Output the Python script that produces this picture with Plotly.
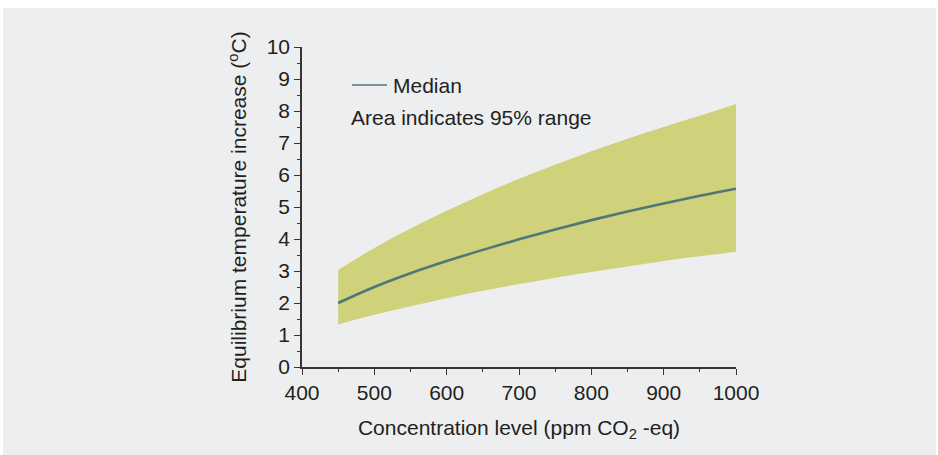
import plotly.graph_objects as go

concentration = [450, 500, 550, 600, 650, 700, 750, 800, 850, 900, 950, 1000]
median = [2.0, 2.5, 2.93, 3.31, 3.66, 3.99, 4.3, 4.59, 4.86, 5.11, 5.35, 5.57]
upper = [3.03, 3.72, 4.33, 4.88, 5.4, 5.88, 6.32, 6.74, 7.13, 7.5, 7.85, 8.22]
lower = [1.33, 1.63, 1.9, 2.15, 2.38, 2.59, 2.79, 2.97, 3.14, 3.31, 3.46, 3.6]

x_ticks = [400, 500, 600, 700, 800, 900, 1000]
y_ticks = list(range(0, 11))

FONT = "Liberation Sans, Arial, sans-serif"
TXT = "#231f20"
AX = "#3a3233"
BG = "#edeef0"
BAND = "#cfd27a"
LINE = "#4f7777"
FS = 21

fig = go.Figure()
fig.add_trace(go.Scatter(x=concentration, y=upper, mode="lines",
                         line=dict(width=0, color=BAND, shape="spline"),
                         showlegend=False, hoverinfo="skip"))
fig.add_trace(go.Scatter(x=concentration, y=lower, mode="lines",
                         line=dict(width=0, color=BAND, shape="spline"),
                         fill="tonexty", fillcolor=BAND, showlegend=False, hoverinfo="skip"))
fig.add_trace(go.Scatter(x=concentration, y=median, mode="lines",
                         line=dict(width=2.6, color=LINE, shape="spline"),
                         name="Median", showlegend=False))

L, R, T, B = 302, 202, 47, 88
W, H = 938, 455
pw, ph = W - L - R, H - T - B

def px_x(p):
    return (p - L) / pw

def px_y(p):
    return (H - B - p) / ph

fig.add_shape(type="rect", xref="paper", yref="paper",
              x0=px_x(3), x1=px_x(936), y0=px_y(456), y1=px_y(8),
              fillcolor=BG, line=dict(width=0), layer="below")

# legend sample line
fig.add_shape(type="line", xref="paper", yref="paper",
              x0=px_x(352), x1=px_x(387), y0=px_y(85), y1=px_y(85),
              line=dict(color=LINE, width=1.3))
fig.add_annotation(xref="paper", yref="paper", x=px_x(391), y=px_y(86), text="Median",
                   showarrow=False, xanchor="left", yanchor="middle",
                   font=dict(family=FONT, size=FS, color=TXT))
fig.add_annotation(xref="paper", yref="paper", x=px_x(349), y=px_y(117),
                   text="Area indicates 95% range",
                   showarrow=False, xanchor="left", yanchor="middle",
                   font=dict(family=FONT, size=FS, color=TXT))

fig.update_layout(
    width=W, height=H,
    margin=dict(l=L, r=R, t=T, b=B),
    paper_bgcolor="white", plot_bgcolor=BG,
    font=dict(family=FONT, size=FS, color=TXT),
    showlegend=False,
    xaxis=dict(range=[400, 1000], tickvals=x_ticks, ticks="outside", ticklen=6, tickwidth=1.2,
               tickcolor=AX, showline=True, linecolor=AX, linewidth=1.5, showgrid=False,
               zeroline=False, tickfont=dict(size=FS, color=TXT),
               minor=dict(dtick=50, tick0=400, ticks="outside", ticklen=3, tickcolor=AX, tickwidth=1),
               title=dict(text="Concentration level (ppm CO<sub>2</sub> -eq)", standoff=17,
                          font=dict(size=FS, color=TXT))),
    yaxis=dict(range=[0, 10], tickvals=y_ticks, ticks="outside", ticklen=6, tickwidth=1.2,
               tickcolor=AX, showline=True, linecolor=AX, linewidth=1.5, showgrid=False,
               zeroline=False, tickfont=dict(size=FS, color=TXT),
               minor=dict(dtick=0.5, tick0=0, ticks="outside", ticklen=3, tickcolor=AX, tickwidth=1),
               title=dict(text="Equilibrium temperature increase (<sup>o</sup>C)", standoff=14,
                          font=dict(size=FS, color=TXT))),
)

fig.write_html("out.html", config={"displayModeBar": False},
               post_script="document.body.style.margin='0';")
